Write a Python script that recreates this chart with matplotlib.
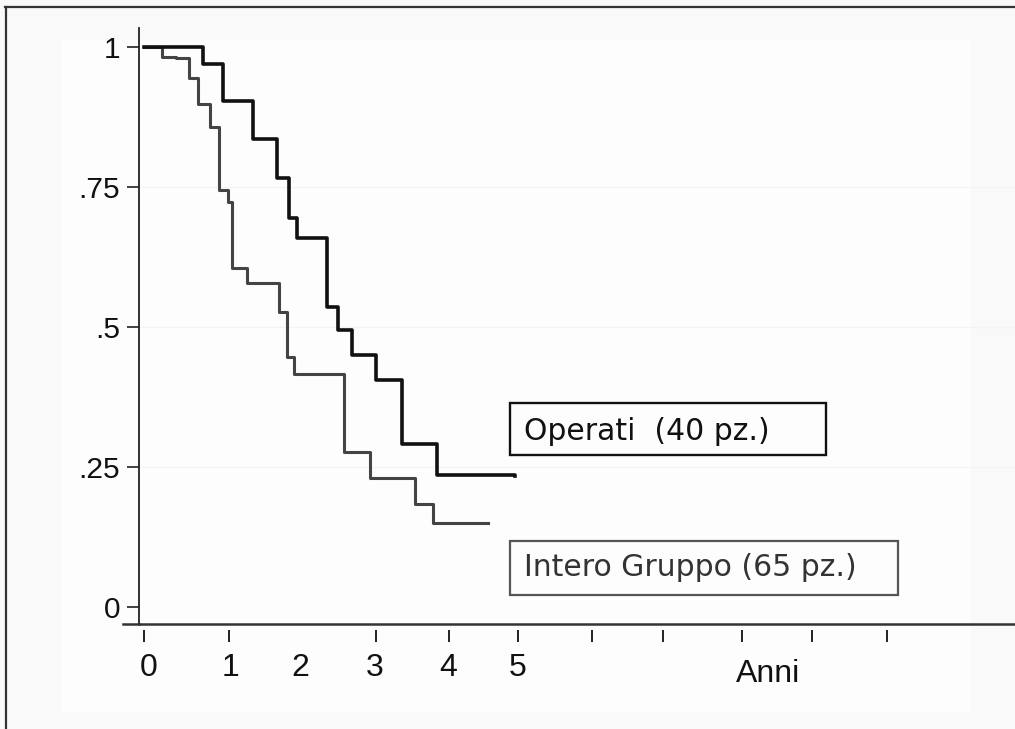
import matplotlib
matplotlib.use("Agg")
import matplotlib.pyplot as plt
from matplotlib.lines import Line2D
from matplotlib.patches import Rectangle
from matplotlib.transforms import blended_transform_factory

# ---- data ----
operati_times = [0, 0.789, 1.052, 1.457, 1.774, 1.943, 2.039, 2.453, 2.598,
                 2.777, 3.098, 3.445, 3.917, 4.96]
operati_surv = [1.0, 0.970, 0.903, 0.836, 0.765, 0.695, 0.659, 0.535, 0.495,
                0.449, 0.405, 0.291, 0.236, 0.234]

gruppo_times = [0, 0.237, 0.428, 0.606, 0.726, 0.882, 1.007, 1.119, 1.183,
                1.373, 1.809, 1.916, 2.009, 2.674, 3.021, 3.623, 3.868, 4.603]
gruppo_surv = [1.0, 0.982, 0.980, 0.945, 0.897, 0.856, 0.745, 0.723, 0.604,
               0.578, 0.527, 0.446, 0.416, 0.276, 0.229, 0.183, 0.149, 0.149]

y_ticks = [0, 0.25, 0.5, 0.75, 1]
y_tick_labels = ["0", ".25", ".5", ".75", "1"]
x_tick_marks = [0, 1.136, 3.102, 4.078, 5.0, 5.989, 6.939, 7.995, 8.930, 9.933]
x_label_pos = [0.067, 1.15, 2.09, 3.09, 4.07, 4.99]
x_labels = ["0", "1", "2", "3", "4", "5"]
label_operati = "Operati  (40 pz.)"
label_gruppo = "Intero Gruppo (65 pz.)"
x_title = "Anni"

# ---- figure ----
W, H = 1015, 729
fig = plt.figure(figsize=(W / 100, H / 100), dpi=100, facecolor="#f9f9f9")

def fx(px):
    return px / W

def fy(py):
    return 1 - py / H

# subtle inner whiter panel
fig.add_artist(Rectangle((fx(61), fy(712)), fx(971) - fx(61), fy(40) - fy(712),
                         transform=fig.transFigure, facecolor="#fdfdfd",
                         edgecolor="none", zorder=0))
# image frame (top & left)
fig.add_artist(Line2D([fx(5), fx(1015)], [fy(7), fy(7)], transform=fig.transFigure,
                      color="#333333", lw=1.6))
fig.add_artist(Line2D([fx(6), fx(6)], [fy(7), fy(729)], transform=fig.transFigure,
                      color="#333333", lw=1.6))

ax_l, ax_b, ax_t = 139, 623.5, 28
ax = fig.add_axes([fx(ax_l), fy(ax_b), 1 - fx(ax_l), fy(ax_t) - fy(ax_b)])
ax.set_facecolor("none")
ax.set_xlim(-0.0668, 11.644)
ax.set_ylim(-0.030, 1.0334)

for s in ["top", "right"]:
    ax.spines[s].set_visible(False)
ax.spines["left"].set_color("#222222")
ax.spines["left"].set_linewidth(1.3)
ax.spines["bottom"].set_color("#333333")
ax.spines["bottom"].set_linewidth(1.8)
# x-axis line extends a little left of the y-axis
fig.add_artist(Line2D([fx(123), fx(ax_l)], [fy(ax_b), fy(ax_b)],
                      transform=fig.transFigure, color="#333333", lw=1.8))

# faint gridlines
for yv in y_ticks[1:-1]:
    ax.axhline(yv, color="#f4f4f4", lw=1.0, zorder=0.5)

# y ticks
ax.set_yticks(y_ticks)
ax.set_yticklabels(y_tick_labels, family=["Liberation Sans", "DejaVu Sans"],
                   fontsize=21.5, color="#111111")
ax.tick_params(axis="y", direction="out", length=8.6, width=1.2,
               color="#222222", pad=5)

# x tick labels (no marks), and separate tick marks with gap
ax.set_xticks(x_label_pos)
ax.set_xticklabels(x_labels, family=["Liberation Sans", "DejaVu Sans"],
                   fontsize=23, color="#111111")
ax.tick_params(axis="x", length=0, pad=21)
trans = blended_transform_factory(ax.transData, ax.transAxes)
hpx = ax_b - ax_t
ax.vlines(x_tick_marks, -(630 - ax_b) / hpx, -(642 - ax_b) / hpx,
          transform=trans, colors="#222222", lw=1.4, clip_on=False)

# curves
ax.step(gruppo_times, gruppo_surv, where="post", color="#444444", lw=2.2,
        zorder=3)
ax.step(operati_times, operati_surv, where="post", color="#111111", lw=2.6,
        zorder=4)

# label boxes
fig.add_artist(Rectangle((fx(510), fy(455)), fx(826) - fx(510), fy(403) - fy(455),
                         transform=fig.transFigure, facecolor="none",
                         edgecolor="#111111", lw=1.7, zorder=5))
fig.text(fx(524), fy(431), label_operati, family="DejaVu Sans", fontsize=21.5,
         color="#111111", va="center", ha="left")
fig.add_artist(Rectangle((fx(510), fy(595)), fx(898) - fx(510), fy(541) - fy(595),
                         transform=fig.transFigure, facecolor="none",
                         edgecolor="#555555", lw=1.6, zorder=5))
fig.text(fx(524), fy(568), label_gruppo, family="DejaVu Sans", fontsize=21.5,
         color="#333333", va="center", ha="left")

# axis title
fig.text(fx(768), fy(674), x_title, family=["Liberation Sans", "DejaVu Sans"],
         fontsize=23, color="#111111", va="center", ha="center")

fig.savefig("out.png", dpi=100, facecolor=fig.get_facecolor())
